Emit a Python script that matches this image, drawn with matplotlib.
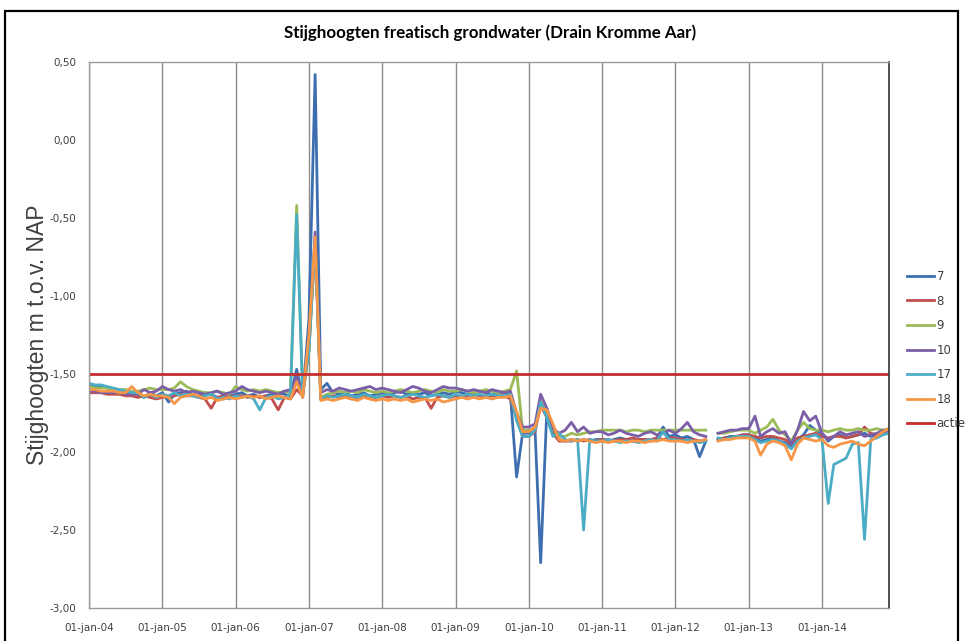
#!/usr/bin/env python3
"""Stijghoogten freatisch grondwater (Drain Kromme Aar), peilbuizen 2004-2014."""

import numpy as np
import pandas as pd
import matplotlib
matplotlib.use("Agg")
import matplotlib.pyplot as plt
from matplotlib.patches import Rectangle
from matplotlib.ticker import FuncFormatter

nan = np.nan

# monthly readings, one row per year (jan..dec), 2004..2014
months = pd.date_range("2004-01-01", periods=132, freq="MS")

pb7 = [
    -1.57, -1.58, -1.58, -1.59, -1.60, -1.60, -1.61, -1.62, -1.63, -1.65, -1.62, -1.64,
    -1.62, -1.68, -1.63, -1.62, -1.61, -1.63, -1.64, -1.62, -1.63, -1.65, -1.66, -1.64,
    -1.63, -1.62, -1.64, -1.63, -1.65, -1.64, -1.63, -1.62, -1.63, -1.64, -1.47, -1.65,
    -1.15, 0.42, -1.60, -1.56, -1.62, -1.63, -1.62, -1.64, -1.63, -1.62, -1.64, -1.63,
    -1.62, -1.63, -1.62, -1.61, -1.63, -1.62, -1.63, -1.62, -1.64, -1.63, -1.62, -1.63,
    -1.61, -1.62, -1.63, -1.62, -1.61, -1.62, -1.63, -1.62, -1.62, -1.63, -2.16, -1.88,
    -1.88, -1.86, -2.71, -1.72, -1.86, -1.92, -1.93, -1.92, -1.93, -1.92, -1.93, -1.92,
    -1.92, -1.93, -1.92, -1.91, -1.92, -1.93, -1.92, -1.92, -1.93, -1.91, -1.84, -1.90,
    -1.89, -1.91, -1.90, -1.92, -2.03, -1.93, nan, -1.92, -1.91, -1.90, -1.90, -1.89,
    -1.89, -1.91, -1.93, -1.92, -1.91, -1.93, -1.94, -1.97, -1.92, -1.89, -1.83, -1.86,
    -1.88, -1.93, -1.90, -1.89, -1.91, -1.90, -1.89, -1.88, -1.90, -1.89, -1.88, -1.87,
]
pb8 = [
    -1.62, -1.62, -1.62, -1.63, -1.63, -1.63, -1.64, -1.64, -1.65, -1.64, -1.65, -1.66,
    -1.65, -1.64, -1.64, -1.63, -1.64, -1.64, -1.65, -1.66, -1.72, -1.65, -1.64, -1.65,
    -1.64, -1.64, -1.65, -1.64, -1.65, -1.64, -1.66, -1.73, -1.65, -1.66, -1.60, -1.64,
    -1.35, -0.65, -1.66, -1.65, -1.64, -1.65, -1.64, -1.66, -1.65, -1.64, -1.66, -1.65,
    -1.64, -1.65, -1.64, -1.65, -1.64, -1.66, -1.65, -1.65, -1.72, -1.65, -1.64, -1.65,
    -1.64, -1.65, -1.64, -1.63, -1.64, -1.65, -1.64, -1.64, -1.64, -1.66, -1.78, -1.90,
    -1.90, -1.87, -1.70, -1.78, -1.88, -1.93, -1.93, -1.93, -1.92, -1.93, -1.92, -1.93,
    -1.92, -1.92, -1.93, -1.92, -1.92, -1.91, -1.92, -1.92, -1.92, -1.91, -1.92, -1.91,
    -1.91, -1.92, -1.92, -1.92, -1.93, -1.92, nan, -1.92, -1.91, -1.91, -1.90, -1.89,
    -1.89, -1.90, -1.91, -1.90, -1.90, -1.91, -1.92, -1.95, -1.91, -1.90, -1.89, -1.88,
    -1.90, -1.91, -1.90, -1.90, -1.91, -1.90, -1.89, -1.84, -1.88, -1.89, -1.88, -1.87,
]
pb9 = [
    -1.58, -1.59, -1.59, -1.59, -1.60, -1.60, -1.60, -1.61, -1.61, -1.60, -1.59, -1.60,
    -1.60, -1.60, -1.59, -1.55, -1.58, -1.60, -1.61, -1.62, -1.62, -1.61, -1.62, -1.63,
    -1.58, -1.60, -1.61, -1.60, -1.61, -1.60, -1.61, -1.62, -1.61, -1.62, -0.42, -1.62,
    -1.35, -0.63, -1.65, -1.63, -1.62, -1.61, -1.62, -1.61, -1.62, -1.60, -1.61, -1.62,
    -1.61, -1.62, -1.61, -1.60, -1.61, -1.62, -1.61, -1.60, -1.61, -1.62, -1.60, -1.61,
    -1.61, -1.60, -1.61, -1.62, -1.61, -1.60, -1.61, -1.62, -1.61, -1.60, -1.48, -1.86,
    -1.86, -1.85, -1.67, -1.76, -1.85, -1.90, -1.90, -1.88, -1.89, -1.88, -1.87, -1.87,
    -1.86, -1.86, -1.86, -1.86, -1.87, -1.86, -1.86, -1.87, -1.86, -1.86, -1.86, -1.86,
    -1.86, -1.86, -1.86, -1.86, -1.86, -1.86, nan, -1.88, -1.88, -1.87, -1.86, -1.86,
    -1.86, -1.88, -1.86, -1.84, -1.79, -1.86, -1.89, -1.93, -1.86, -1.81, -1.85, -1.86,
    -1.86, -1.87, -1.86, -1.85, -1.86, -1.86, -1.85, -1.86, -1.86, -1.85, -1.86, -1.85,
]
pb10 = [
    -1.61, -1.61, -1.62, -1.62, -1.62, -1.62, -1.63, -1.63, -1.63, -1.60, -1.62, -1.61,
    -1.58, -1.60, -1.61, -1.60, -1.62, -1.61, -1.62, -1.63, -1.62, -1.61, -1.63, -1.62,
    -1.61, -1.58, -1.60, -1.61, -1.62, -1.61, -1.62, -1.63, -1.61, -1.60, -1.52, -1.61,
    -1.30, -0.59, -1.62, -1.60, -1.61, -1.59, -1.60, -1.61, -1.60, -1.59, -1.58, -1.60,
    -1.59, -1.60, -1.61, -1.62, -1.60, -1.58, -1.59, -1.61, -1.62, -1.60, -1.58, -1.59,
    -1.59, -1.60, -1.61, -1.60, -1.61, -1.62, -1.60, -1.61, -1.62, -1.61, -1.75, -1.84,
    -1.84, -1.82, -1.63, -1.72, -1.85, -1.88, -1.86, -1.81, -1.87, -1.84, -1.88, -1.87,
    -1.87, -1.89, -1.88, -1.86, -1.88, -1.89, -1.90, -1.88, -1.87, -1.89, -1.88, -1.86,
    -1.88, -1.85, -1.81, -1.87, -1.89, -1.90, nan, -1.88, -1.87, -1.86, -1.86, -1.85,
    -1.85, -1.77, -1.90, -1.87, -1.85, -1.88, -1.87, -1.95, -1.86, -1.74, -1.80, -1.77,
    -1.88, -1.92, -1.90, -1.87, -1.89, -1.88, -1.87, -1.90, -1.89, -1.88, -1.86, -1.88,
]
pb17 = [
    -1.56, -1.57, -1.57, -1.58, -1.59, -1.60, -1.61, -1.62, -1.62, -1.65, -1.63, -1.65,
    -1.63, -1.64, -1.62, -1.64, -1.63, -1.64, -1.65, -1.64, -1.63, -1.66, -1.65, -1.66,
    -1.64, -1.65, -1.64, -1.66, -1.73, -1.65, -1.64, -1.66, -1.65, -1.63, -0.48, -1.63,
    -1.35, -0.64, -1.66, -1.64, -1.65, -1.64, -1.63, -1.64, -1.65, -1.63, -1.64, -1.65,
    -1.64, -1.63, -1.64, -1.65, -1.64, -1.63, -1.64, -1.65, -1.64, -1.63, -1.64, -1.65,
    -1.63, -1.64, -1.63, -1.64, -1.63, -1.64, -1.63, -1.64, -1.64, -1.63, -1.80, -1.90,
    -1.90, -1.86, -1.68, -1.78, -1.90, -1.88, -1.92, -1.93, -1.92, -2.50, -1.92, -1.93,
    -1.93, -1.92, -1.93, -1.94, -1.93, -1.93, -1.94, -1.93, -1.92, -1.93, -1.87, -1.92,
    -1.92, -1.93, -1.92, -1.93, -1.94, -1.93, nan, -1.91, -1.92, -1.91, -1.90, -1.90,
    -1.90, -1.92, -1.94, -1.93, -1.92, -1.93, -1.95, -1.98, -1.93, -1.91, -1.90, -1.89,
    -1.92, -2.33, -2.08, -2.06, -2.04, -1.95, -1.94, -2.56, -1.92, -1.91, -1.89, -1.88,
]
pb18 = [
    -1.60, -1.60, -1.61, -1.61, -1.61, -1.62, -1.62, -1.58, -1.62, -1.64, -1.63, -1.64,
    -1.64, -1.65, -1.69, -1.65, -1.64, -1.63, -1.64, -1.66, -1.65, -1.67, -1.66, -1.65,
    -1.66, -1.65, -1.64, -1.65, -1.64, -1.66, -1.65, -1.64, -1.65, -1.66, -1.55, -1.65,
    -1.25, -0.62, -1.67, -1.66, -1.67, -1.66, -1.65, -1.66, -1.67, -1.65, -1.66, -1.67,
    -1.66, -1.67, -1.66, -1.67, -1.66, -1.68, -1.67, -1.66, -1.67, -1.66, -1.68, -1.67,
    -1.66, -1.65, -1.66, -1.65, -1.66, -1.65, -1.66, -1.65, -1.65, -1.64, -1.74, -1.87,
    -1.87, -1.84, -1.72, -1.73, -1.82, -1.92, -1.93, -1.92, -1.93, -1.92, -1.93, -1.94,
    -1.93, -1.94, -1.93, -1.93, -1.94, -1.93, -1.93, -1.94, -1.93, -1.93, -1.92, -1.93,
    -1.93, -1.93, -1.94, -1.93, -1.93, -1.92, nan, -1.93, -1.92, -1.92, -1.91, -1.91,
    -1.91, -1.93, -2.02, -1.95, -1.93, -1.94, -1.96, -2.05, -1.95, -1.91, -1.92, -1.93,
    -1.92, -1.96, -1.97, -1.95, -1.94, -1.93, -1.95, -1.96, -1.93, -1.90, -1.87, -1.85,
]
actie = -1.50  # actiegrens m t.o.v. NAP

series = {
    "7":  (pb7,  "#3d6fb0"),
    "8":  (pb8,  "#c0504d"),
    "9":  (pb9,  "#9bbb59"),
    "10": (pb10, "#7b5ea7"),
    "17": (pb17, "#4bacc6"),
    "18": (pb18, "#f79646"),
}

fig = plt.figure(figsize=(9.65, 6.41), dpi=100)
ax = fig.add_axes([89 / 965, 1 - 608 / 641, 800 / 965, 546 / 641])

for label, (vals, color) in series.items():
    ax.plot(months, vals, color=color, lw=2.0, label=label, solid_joinstyle="round")
ax.plot(months, [actie] * len(months), color="#c62d2d", lw=2.0, label="actie")

ax.set_xlim(months[0], months[-1])
ax.set_ylim(-3.0, 0.5)
ax.set_yticks(np.arange(-3.0, 0.51, 0.5))
ax.yaxis.set_major_formatter(FuncFormatter(lambda v, _: f"{v:.2f}".replace(".", ",")))

years = pd.date_range("2004-01-01", "2014-01-01", freq="YS")
ax.set_xticks(years)
ax.set_xticklabels([f"01-jan-{d.year % 100:02d}" for d in years])
ax.grid(True, axis="x", color="#8c8c8c", lw=1.0)
ax.tick_params(axis="both", length=0, labelsize=7.5, colors="#404040")
ax.tick_params(axis="y", pad=9)
ax.tick_params(axis="x", pad=11)

for side in ["left", "bottom", "top"]:
    ax.spines[side].set_color("#9a9a9a")
    ax.spines[side].set_linewidth(1.0)
ax.spines["right"].set_color("#404040")
ax.spines["right"].set_linewidth(1.3)

ax.set_ylabel("Stijghoogten m t.o.v. NAP", fontsize=16.5, color="#404040",
              family="Liberation Sans")
ax.yaxis.set_label_coords(-0.05, 0.5)

fig.text(490 / 965, 1 - 33 / 641, "Stijghoogten freatisch grondwater (Drain Kromme Aar)",
         ha="center", va="center", fontsize=12.2, fontweight="bold",
         family=["Lato", "DejaVu Sans"])

fig.legend(loc="upper left", bbox_to_anchor=(907 / 965, 1 - 270 / 641),
           frameon=False, borderpad=0, borderaxespad=0, handlelength=2.3,
           handletextpad=0.2, labelspacing=0.98, fontsize=8.5, labelcolor="#404040")

# outer chart frame
fig.patches.append(Rectangle((5 / 965, -0.05), 953 / 965, 1.05 - 11 / 641,
                             transform=fig.transFigure, fill=False,
                             edgecolor="black", lw=1.6, clip_on=False))

fig.savefig("out.png", dpi=100)
